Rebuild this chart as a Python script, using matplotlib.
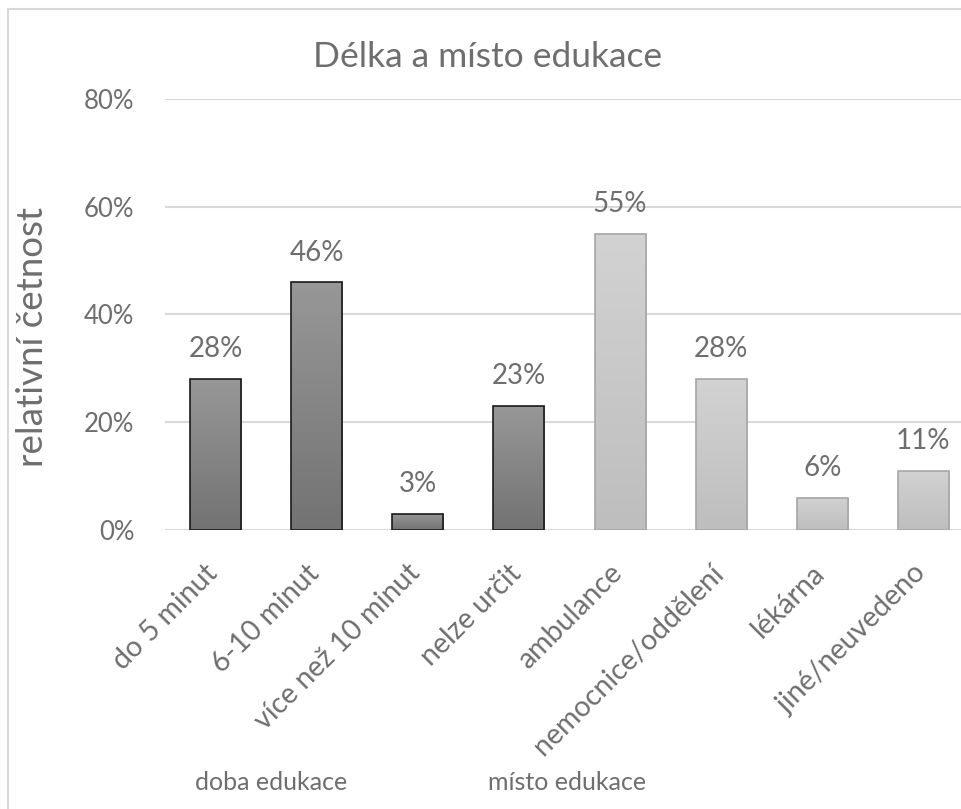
import matplotlib
matplotlib.use("Agg")
import matplotlib.pyplot as plt
import matplotlib.patches as mpatches
import matplotlib.transforms as mtransforms
import numpy as np

plt.rcParams['font.family'] = ['Lato', 'DejaVu Sans']

categories = ['do 5 minut', '6-10 minut', 'více než 10 minut', 'nelze určit',
              'ambulance', 'nemocnice/oddělení', 'lékárna', 'jiné/neuvedeno']
values = [28, 46, 3, 23, 55, 28, 6, 11]
groups = ['doba edukace', 'místo edukace']
group_of = [0, 0, 0, 0, 1, 1, 1, 1]

txt = '#6e6e6e'
# gradient (top, bottom) and edge colour per group
fills = [('#979797', '#737373'), ('#d2d2d2', '#bebebe')]
edges = ['#1a1a1a', '#a6a6a6']

fig = plt.figure(figsize=(9.62, 8.09), dpi=100)
# plot area runs past the right edge (picture is cropped)
ax = fig.add_axes([165 / 962, 0.3449, 809 / 962, 0.5327])

# chart border (cropped on the right and bottom)
fig.patches.append(mpatches.Rectangle((8 / 962, -0.05), 1.0, 1 - 9 / 809 + 0.05,
                                      transform=fig.transFigure, fill=False,
                                      edgecolor='#d9d9d9', linewidth=1.5))

x = np.arange(len(categories))
yv = np.array(values) / 100
bars = ax.bar(x, yv, width=0.505, color='none', zorder=3)
for b, g, v in zip(bars, group_of, yv):
    top, bot = fills[g]
    c1 = np.array(matplotlib.colors.to_rgb(top))
    c2 = np.array(matplotlib.colors.to_rgb(bot))
    t = np.linspace(0, 1, 64)[:, None]
    img = (c1 * (1 - t) + c2 * t)[:, None, :]
    x0 = b.get_x()
    im = ax.imshow(img, extent=(x0, x0 + b.get_width(), 0, v), aspect='auto',
                   origin='upper', zorder=2)
    im.set_clip_path(b)
    b.set_edgecolor(edges[g])
    b.set_linewidth(1.2)
    ax.annotate(f'{round(v * 100)}%', (b.get_x() + b.get_width() / 2, v),
                xytext=(0, 12), textcoords='offset points', ha='center',
                va='bottom', fontsize=20, color=txt)

ax.set_xlim(-0.5, len(categories) - 0.5)
ax.set_ylim(0, 0.8)
ax.set_yticks([0, 0.2, 0.4, 0.6, 0.8])
ax.set_yticklabels(['0%', '20%', '40%', '60%', '80%'])
ax.yaxis.grid(True, color='#d9d9d9', linewidth=1.5, zorder=0)
ax.set_axisbelow(True)
for s in ax.spines.values():
    s.set_visible(False)
ax.tick_params(axis='both', length=0, labelsize=18.5, labelcolor=txt)
ax.tick_params(axis='y', pad=22)

ax.set_xticks(x)
ax.set_xticklabels([])
offs = mtransforms.offset_copy(ax.transData, fig=fig, x=-11, y=-30, units='dots')
for xi, lab in zip(x, categories):
    ax.text(xi, 0, lab, rotation=45, rotation_mode='anchor', ha='right',
            va='top', fontsize=20.5, color=txt, transform=offs)

fig.text(33 / 962, 1 - 337 / 809, 'relativní četnost', rotation=90,
         ha='center', va='center', fontsize=26.5, color=txt)
fig.text(488 / 962, 1 - 67 / 809, 'Délka a místo edukace', ha='center',
         va='baseline', fontsize=25.5, color=txt)

blend = mtransforms.blended_transform_factory(ax.transData, fig.transFigure)
for xg, g in zip([0.55, 3.48], groups):
    ax.text(xg, 1 - 783 / 809, g, transform=blend, ha='center', va='center',
            fontsize=18, color=txt)

fig.savefig('out.png', dpi=100)
